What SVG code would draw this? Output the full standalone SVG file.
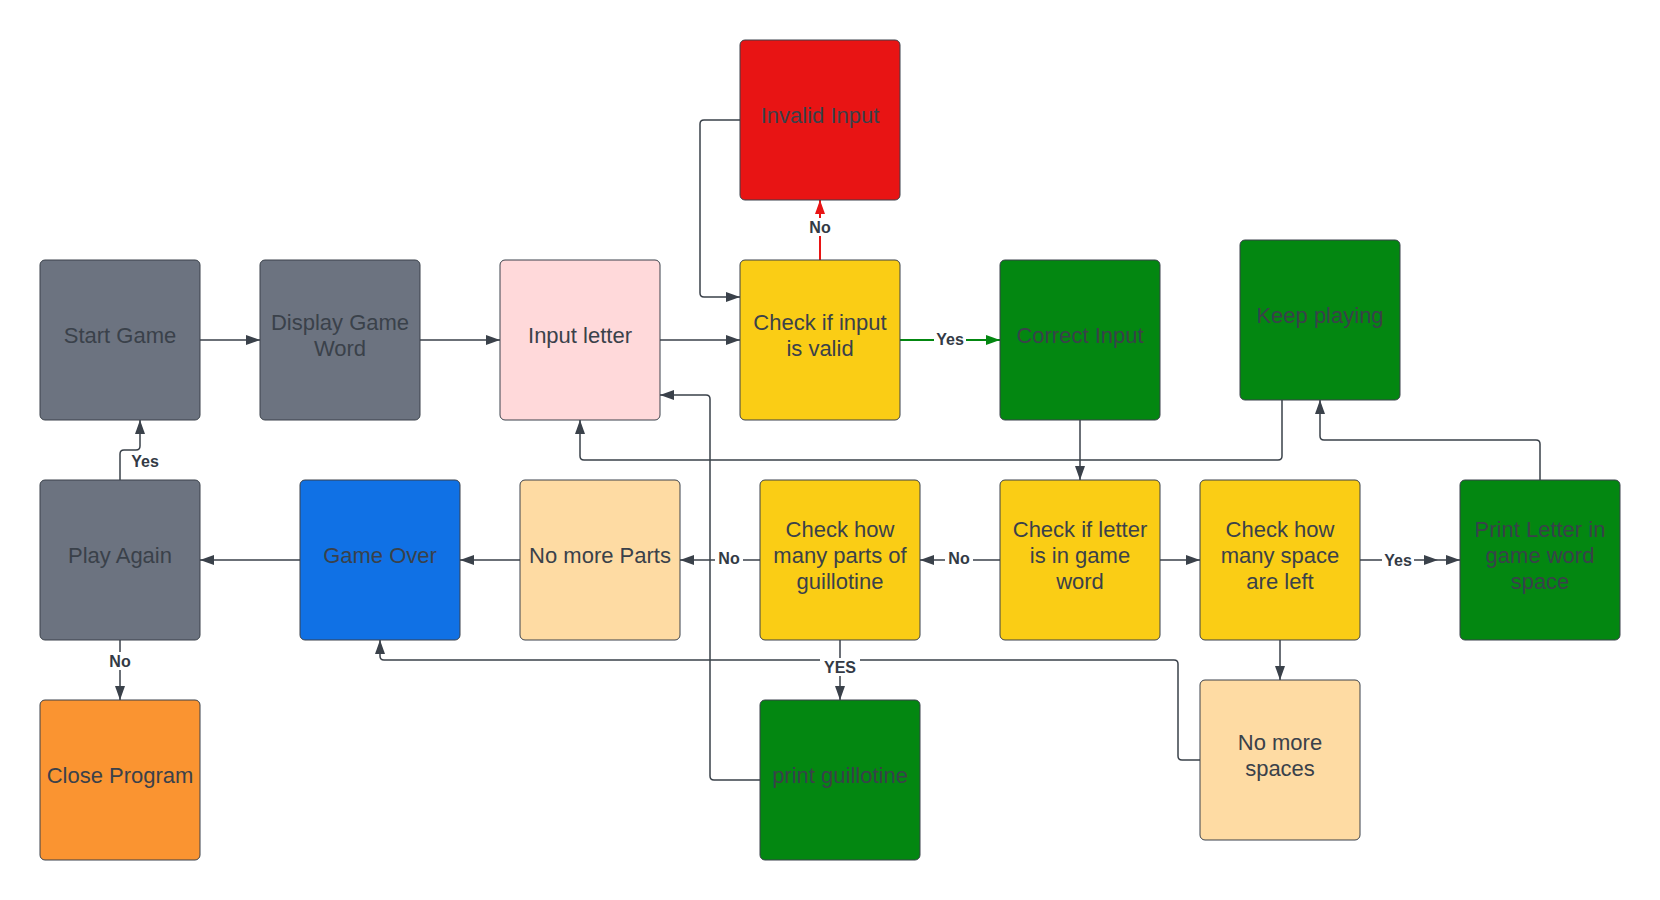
<svg xmlns="http://www.w3.org/2000/svg" width="1660" height="900" viewBox="0 0 1660 900">
  <style>
    .box { stroke: #3a414a; stroke-width: 1; }
    .t { font-family: "Liberation Sans", Arial, sans-serif; font-size: 22px; fill: #3a414a; text-anchor: middle; }
    .lbl { font-family: "Liberation Sans", Arial, sans-serif; font-size: 16px; font-weight: bold; fill: #333a45; text-anchor: middle; }
    .c { fill: none; stroke: #3a414a; stroke-width: 1.5; }
    .gray { fill: #6c7380; }
    .pink { fill: #ffd9da; }
    .yellow { fill: #facd15; }
    .red { fill: #e81414; }
    .green { fill: #038711; }
    .blue { fill: #1071e5; }
    .peach { fill: #fedba3; }
    .orange { fill: #fa9431; }
  </style>
  <defs>
    <marker id="arr" markerUnits="userSpaceOnUse" markerWidth="14" markerHeight="10" refX="14" refY="5" orient="auto">
      <path d="M0,0 L14,5 L0,10 z" fill="#3a414a"/>
    </marker>
    <marker id="arrRed" markerUnits="userSpaceOnUse" markerWidth="14" markerHeight="10" refX="14" refY="5" orient="auto">
      <path d="M0,0 L14,5 L0,10 z" fill="#e81414"/>
    </marker>
    <marker id="arrGreen" markerUnits="userSpaceOnUse" markerWidth="14" markerHeight="10" refX="14" refY="5" orient="auto">
      <path d="M0,0 L14,5 L0,10 z" fill="#038711"/>
    </marker>
  </defs>
  <rect width="1660" height="900" fill="#ffffff"/>

  <!-- connectors -->
  <g id="connectors">
    <path class="c" d="M200,340 H260" marker-end="url(#arr)"/>
    <path class="c" d="M420,340 H500" marker-end="url(#arr)"/>
    <path class="c" d="M660,340 H740" marker-end="url(#arr)"/>
    <path d="M820,260 V200" fill="none" stroke="#e81414" stroke-width="2" marker-end="url(#arrRed)"/>
    <path class="c" d="M740,120 H704 Q700,120 700,124 V293 Q700,297 704,297 H740" marker-end="url(#arr)"/>
    <path d="M900,340 H1000" fill="none" stroke="#038711" stroke-width="2" marker-end="url(#arrGreen)"/>
    <path class="c" d="M1080,420 V480" marker-end="url(#arr)"/>
    <path class="c" d="M1282,400 V456 Q1282,460 1278,460 H584 Q580,460 580,456 V420" marker-end="url(#arr)"/>
    <path class="c" d="M1540,480 V444 Q1540,440 1536,440 H1324 Q1320,440 1320,436 V400" marker-end="url(#arr)"/>
    <path class="c" d="M1160,560 H1200" marker-end="url(#arr)"/>
    <path class="c" d="M1360,560 H1438" marker-end="url(#arr)"/>
    <path class="c" d="M1438,560 H1460" marker-end="url(#arr)"/>
    <path class="c" d="M1280,640 V680" marker-end="url(#arr)"/>
    <path class="c" d="M1000,560 H920" marker-end="url(#arr)"/>
    <path class="c" d="M760,560 H680" marker-end="url(#arr)"/>
    <path class="c" d="M520,560 H460" marker-end="url(#arr)"/>
    <path class="c" d="M300,560 H200" marker-end="url(#arr)"/>
    <path class="c" d="M120,480 V454 Q120,450 124,450 H136 Q140,450 140,446 V420" marker-end="url(#arr)"/>
    <path class="c" d="M120,640 V700" marker-end="url(#arr)"/>
    <path class="c" d="M1200,760 H1182 Q1178,760 1178,756 V664 Q1178,660 1174,660 H384 Q380,660 380,656 V640" marker-end="url(#arr)"/>
    <path class="c" d="M840,640 V700" marker-end="url(#arr)"/>
    <path class="c" d="M760,780 H714 Q710,780 710,776 V399 Q710,395 706,395 H660" marker-end="url(#arr)"/>

    <!-- connector labels -->
    <rect x="806" y="218" width="28" height="18" fill="#ffffff"/>
    <text class="lbl" x="820" y="233">No</text>
    <rect x="934" y="331" width="32" height="18" fill="#ffffff"/>
    <text class="lbl" x="950" y="345">Yes</text>
    <rect x="1382" y="551" width="32" height="18" fill="#ffffff"/>
    <text class="lbl" x="1398" y="566">Yes</text>
    <rect x="945" y="551" width="28" height="18" fill="#ffffff"/>
    <text class="lbl" x="959" y="564">No</text>
    <rect x="715" y="551" width="28" height="18" fill="#ffffff"/>
    <text class="lbl" x="729" y="564">No</text>
    <rect x="129" y="452" width="32" height="18" fill="#ffffff"/>
    <text class="lbl" x="145" y="467">Yes</text>
    <rect x="106" y="652" width="28" height="18" fill="#ffffff"/>
    <text class="lbl" x="120" y="667">No</text>
    <rect x="820" y="658" width="40" height="18" fill="#ffffff"/>
    <text class="lbl" x="840" y="673">YES</text>
  </g>

  <!-- nodes -->
  <g id="start-game">
    <rect class="box gray" x="40" y="260" width="160" height="160" rx="5"/>
    <text class="t" x="120" y="343">Start Game</text>
  </g>
  <g id="display-game-word">
    <rect class="box gray" x="260" y="260" width="160" height="160" rx="5"/>
    <text class="t" x="340" y="330">Display Game</text>
    <text class="t" x="340" y="356">Word</text>
  </g>
  <g id="input-letter">
    <rect class="box pink" x="500" y="260" width="160" height="160" rx="5"/>
    <text class="t" x="580" y="343">Input letter</text>
  </g>
  <g id="check-input-valid">
    <rect class="box yellow" x="740" y="260" width="160" height="160" rx="5"/>
    <text class="t" x="820" y="330">Check if input</text>
    <text class="t" x="820" y="356">is valid</text>
  </g>
  <g id="invalid-input">
    <rect class="box red" x="740" y="40" width="160" height="160" rx="5"/>
    <text class="t" x="820" y="123">Invalid Input</text>
  </g>
  <g id="correct-input">
    <rect class="box green" x="1000" y="260" width="160" height="160" rx="5"/>
    <text class="t" x="1080" y="343">Correct Input</text>
  </g>
  <g id="keep-playing">
    <rect class="box green" x="1240" y="240" width="160" height="160" rx="5"/>
    <text class="t" x="1320" y="323">Keep playing</text>
  </g>
  <g id="play-again">
    <rect class="box gray" x="40" y="480" width="160" height="160" rx="5"/>
    <text class="t" x="120" y="563">Play Again</text>
  </g>
  <g id="game-over">
    <rect class="box blue" x="300" y="480" width="160" height="160" rx="5"/>
    <text class="t" x="380" y="563">Game Over</text>
  </g>
  <g id="no-more-parts">
    <rect class="box peach" x="520" y="480" width="160" height="160" rx="5"/>
    <text class="t" x="600" y="563">No more Parts</text>
  </g>
  <g id="check-parts">
    <rect class="box yellow" x="760" y="480" width="160" height="160" rx="5"/>
    <text class="t" x="840" y="537">Check how</text>
    <text class="t" x="840" y="563">many parts of</text>
    <text class="t" x="840" y="589">guillotine</text>
  </g>
  <g id="check-letter">
    <rect class="box yellow" x="1000" y="480" width="160" height="160" rx="5"/>
    <text class="t" x="1080" y="537">Check if letter</text>
    <text class="t" x="1080" y="563">is in game</text>
    <text class="t" x="1080" y="589">word</text>
  </g>
  <g id="check-spaces">
    <rect class="box yellow" x="1200" y="480" width="160" height="160" rx="5"/>
    <text class="t" x="1280" y="537">Check how</text>
    <text class="t" x="1280" y="563">many space</text>
    <text class="t" x="1280" y="589">are left</text>
  </g>
  <g id="print-letter">
    <rect class="box green" x="1460" y="480" width="160" height="160" rx="5"/>
    <text class="t" x="1540" y="537">Print Letter in</text>
    <text class="t" x="1540" y="563">game word</text>
    <text class="t" x="1540" y="589">space</text>
  </g>
  <g id="close-program">
    <rect class="box orange" x="40" y="700" width="160" height="160" rx="5"/>
    <text class="t" x="120" y="783">Close Program</text>
  </g>
  <g id="print-guillotine">
    <rect class="box green" x="760" y="700" width="160" height="160" rx="5"/>
    <text class="t" x="840" y="783">print guillotine</text>
  </g>
  <g id="no-more-spaces">
    <rect class="box peach" x="1200" y="680" width="160" height="160" rx="5"/>
    <text class="t" x="1280" y="750">No more</text>
    <text class="t" x="1280" y="776">spaces</text>
  </g>
</svg>
